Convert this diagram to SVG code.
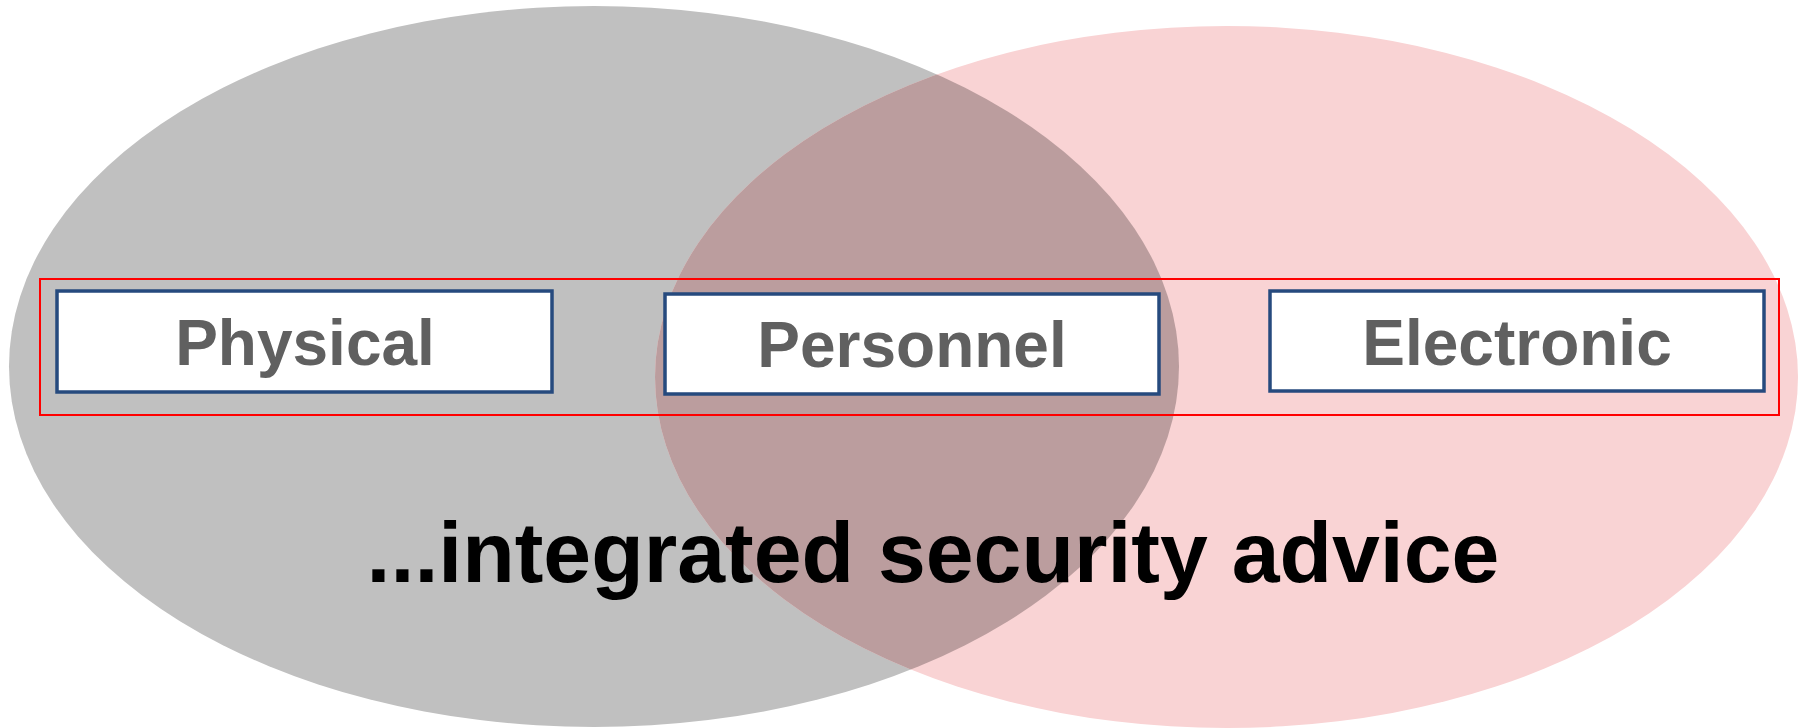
<svg xmlns="http://www.w3.org/2000/svg" width="1805" height="728" viewBox="0 0 1805 728">
<style>
.box{fill:#FFFFFF;stroke:#264A7E;stroke-width:3.5}
.lbl{font-family:"Liberation Sans",Arial,sans-serif;font-weight:bold;font-size:64px;fill:#606060;text-anchor:middle}
.big{font-family:"Liberation Sans",Arial,sans-serif;font-weight:bold;font-size:86px;fill:#000000;text-anchor:middle}
</style>
<defs>
<clipPath id="clipLeft"><ellipse cx="594" cy="366.5" rx="585" ry="360.5"/></clipPath>
</defs>
<g id="background">
<ellipse id="ellipse-left" cx="594" cy="366.5" rx="585" ry="360.5" fill="#C0C0C0"/>
<ellipse id="ellipse-right" cx="1226.5" cy="377" rx="571.5" ry="351" fill="#F9D3D4"/>
<ellipse id="ellipse-overlap" cx="1226.5" cy="377" rx="571.5" ry="351" fill="#BB9D9E" clip-path="url(#clipLeft)"/>
</g>
<g id="group-frame">
<rect x="40" y="279" width="1739" height="136" fill="none" stroke="#FF0000" stroke-width="2"/>
</g>
<g id="connectors"></g>
<g id="node-physical">
<rect class="box" x="57" y="291" width="495" height="101"/>
<text class="lbl" x="305" y="365">Physical</text>
</g>
<g id="node-personnel">
<rect class="box" x="665" y="294" width="494" height="100"/>
<text class="lbl" x="912" y="367">Personnel</text>
</g>
<g id="node-electronic">
<rect class="box" x="1270" y="291" width="494" height="100"/>
<text class="lbl" x="1517" y="365">Electronic</text>
</g>
<g id="caption">
<text class="big" x="933" y="582">...integrated security advice</text>
</g>
</svg>
